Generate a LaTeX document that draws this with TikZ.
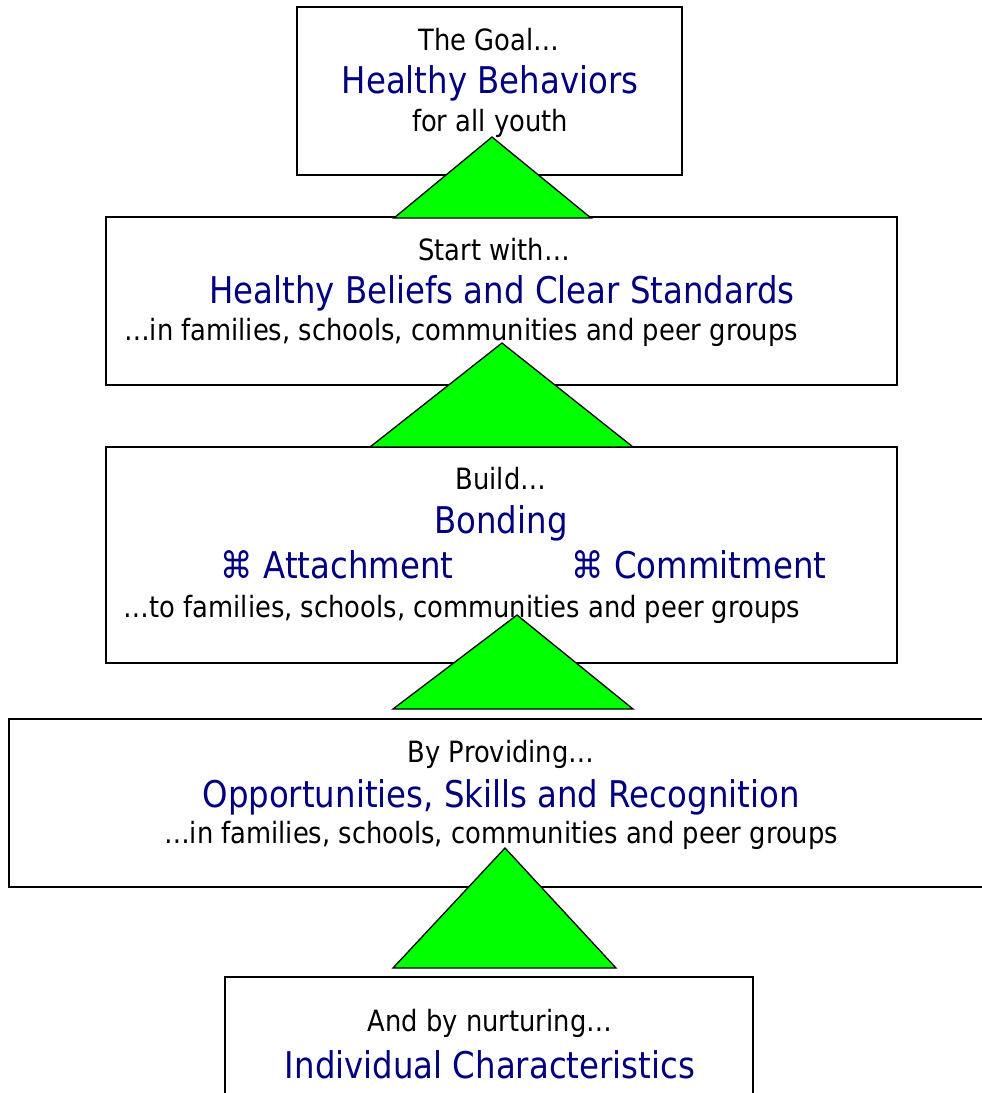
\documentclass[tikz,border=0pt]{standalone}
\usepackage{fontspec}
\setmainfont{DejaVu Sans}[FakeStretch=0.88]
\definecolor{navyblue}{RGB}{0,0,128}
\definecolor{wedgegreen}{RGB}{0,255,0}

\begin{document}
\begin{tikzpicture}
      [x=1pt,y=-1pt,
      %%%%%%%%%%%%%%%%%%%%%%%%%%%%%%
      box/.style={rectangle,draw=black,line width=1.6pt,fill=white,inner sep=0pt},
      wedge/.style={draw=black,line width=1.3pt,fill=wedgegreen,line join=miter},
      lead/.style={anchor=base,black,inner sep=0pt,font=\fontsize{29.3}{34}\selectfont},
      main/.style={anchor=base,navyblue,inner sep=0pt,font=\fontsize{36.8}{42}\selectfont},
      ]%%%%%%%%%%%%%%%%%%%%%%%%%%%%%%
      \useasboundingbox (0,0) rectangle (982,1093);

      % the boxes
      \node[box,minimum width=385pt,minimum height=168pt] (goal) at (489.5,91){};
      \node[box,minimum width=791pt,minimum height=168pt] (beliefs) at (501.5,301){};
      \node[box,minimum width=791pt,minimum height=216pt] (bonding) at (501.5,555){};
      \node[box,minimum width=990pt,minimum height=168pt] (providing) at (504,803){};
      \node[box,minimum width=528pt,minimum height=140pt] (nurture) at (489,1047){};

      % the texts
      \node[lead] (goal-a) at (489,50) {The Goal…};
      \node[main] (goal-b) at (490,93) {Healthy Behaviors};
      \node[lead] (goal-c) at (490,131) {for all youth};

      \node[lead] (beliefs-a) at (494,260) {Start with…};
      \node[main] (beliefs-b) at (502,303) {Healthy Beliefs and Clear Standards};
      \node[lead] (beliefs-c) at (461,340) {…in families, schools, communities and peer groups};

      \node[lead] (bonding-a) at (501,489) {Build…};
      \node[main] (bonding-b) at (501,533) {Bonding};
      \node[main] (bonding-c) at (337,578) {⌘ Attachment};
      \node[main] (bonding-d) at (699,578) {⌘ Commitment};
      \node[lead] (bonding-e) at (462,617) {…to families, schools, communities and peer groups};

      \node[lead] (providing-a) at (501,762) {By Providing…};
      \node[main] (providing-b) at (501,807) {Opportunities, Skills and Recognition};
      \node[lead] (providing-c) at (501,843) {…in families, schools, communities and peer groups};

      \node[lead] (nurture-a) at (490,1031) {And by nurturing…};
      \node[main] (nurture-b) at (490,1078) {Individual Characteristics};

      % the green wedges
      \filldraw[wedge] (492,137) -- (591,218) -- (394,218) -- cycle;
      \filldraw[wedge] (502,343) -- (633,447) -- (370,447) -- cycle;
      \filldraw[wedge] (517,615) -- (633,709) -- (393,709) -- cycle;
      \filldraw[wedge] (505,848) -- (616,968) -- (393,968) -- cycle;
\end{tikzpicture}
\end{document}
